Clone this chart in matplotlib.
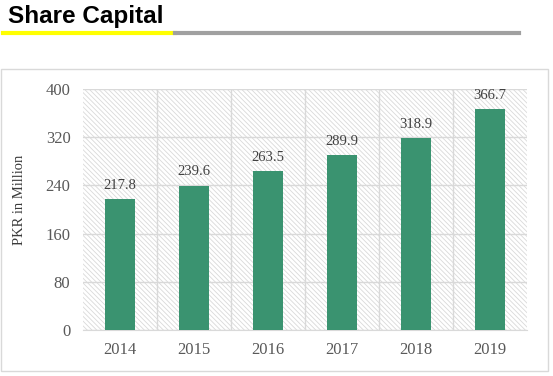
import matplotlib
matplotlib.use("Agg")
from matplotlib import pyplot as plt
from matplotlib.lines import Line2D
from matplotlib.patches import Rectangle

years = ["2014", "2015", "2016", "2017", "2018", "2019"]
capital = [217.8, 239.6, 263.5, 289.9, 318.9, 366.7]
yticks = [0, 80, 160, 240, 320, 400]

W, H = 553, 376
plt.rcParams['hatch.color'] = '#dadada'
plt.rcParams['hatch.linewidth'] = 0.6

fig = plt.figure(figsize=(W / 100, H / 100), dpi=100)

# title and underline
fig.text(8 / W, 1 - 16 / H, "Share Capital", fontsize=17.5, fontweight='bold',
         family='Liberation Sans', va='center', ha='left')
fig.add_artist(Line2D([3 / W, 175 / W], [1 - 33 / H] * 2, color='#ffff00', lw=3))
fig.add_artist(Line2D([175 / W, 519 / W], [1 - 33 / H] * 2, color='#a0a0a0', lw=3))

# chart frame
fig.add_artist(Rectangle((1 / W, 1 - 371 / H), 547 / W, 302 / H, fill=False,
                         edgecolor='#d9d9d9', lw=1))

ax = fig.add_axes([83 / W, 1 - 330 / H, 444 / W, 241 / H])
ax.patch.set_hatch('\\\\\\\\\\\\\\')
ax.patch.set_facecolor('white')
ax.patch.set_edgecolor('#d9d9d9')

x = range(len(years))
ax.bar(x, capital, width=0.405, color='#3a9370', zorder=3)
for i, v in enumerate(capital):
    ax.text(i, v + 12, f"{v:.1f}", ha='center', va='bottom', fontsize=10.5,
            family='Liberation Serif', color='#404040', zorder=4)

ax.set_xlim(-0.5, len(years) - 0.5)
ax.set_ylim(0, 400)
ax.set_yticks(yticks)
ax.set_xticks(list(x))
ax.set_xticklabels(years)
for xb in [i + 0.5 for i in range(len(years) - 1)]:
    ax.axvline(xb, color='#d9d9d9', lw=1, zorder=1)
ax.grid(axis='y', color='#d9d9d9', lw=1, zorder=1)
ax.set_axisbelow(True)
for s in ['top', 'right', 'left']:
    ax.spines[s].set_visible(False)
ax.spines['bottom'].set_color('#d9d9d9')
ax.tick_params(length=0, labelsize=12, labelcolor='#595959', pad=9)
ax.tick_params(axis='y', pad=9)
for lab in ax.get_xticklabels() + ax.get_yticklabels():
    lab.set_family('Liberation Serif')
ax.set_ylabel("PKR in Million", family='Liberation Serif', fontsize=10.5,
              color='#3a3a3a', va='center')
ax.yaxis.set_label_coords((20 - 83) / 444, (330 - 200) / 241)

fig.savefig("out.png", dpi=100)
